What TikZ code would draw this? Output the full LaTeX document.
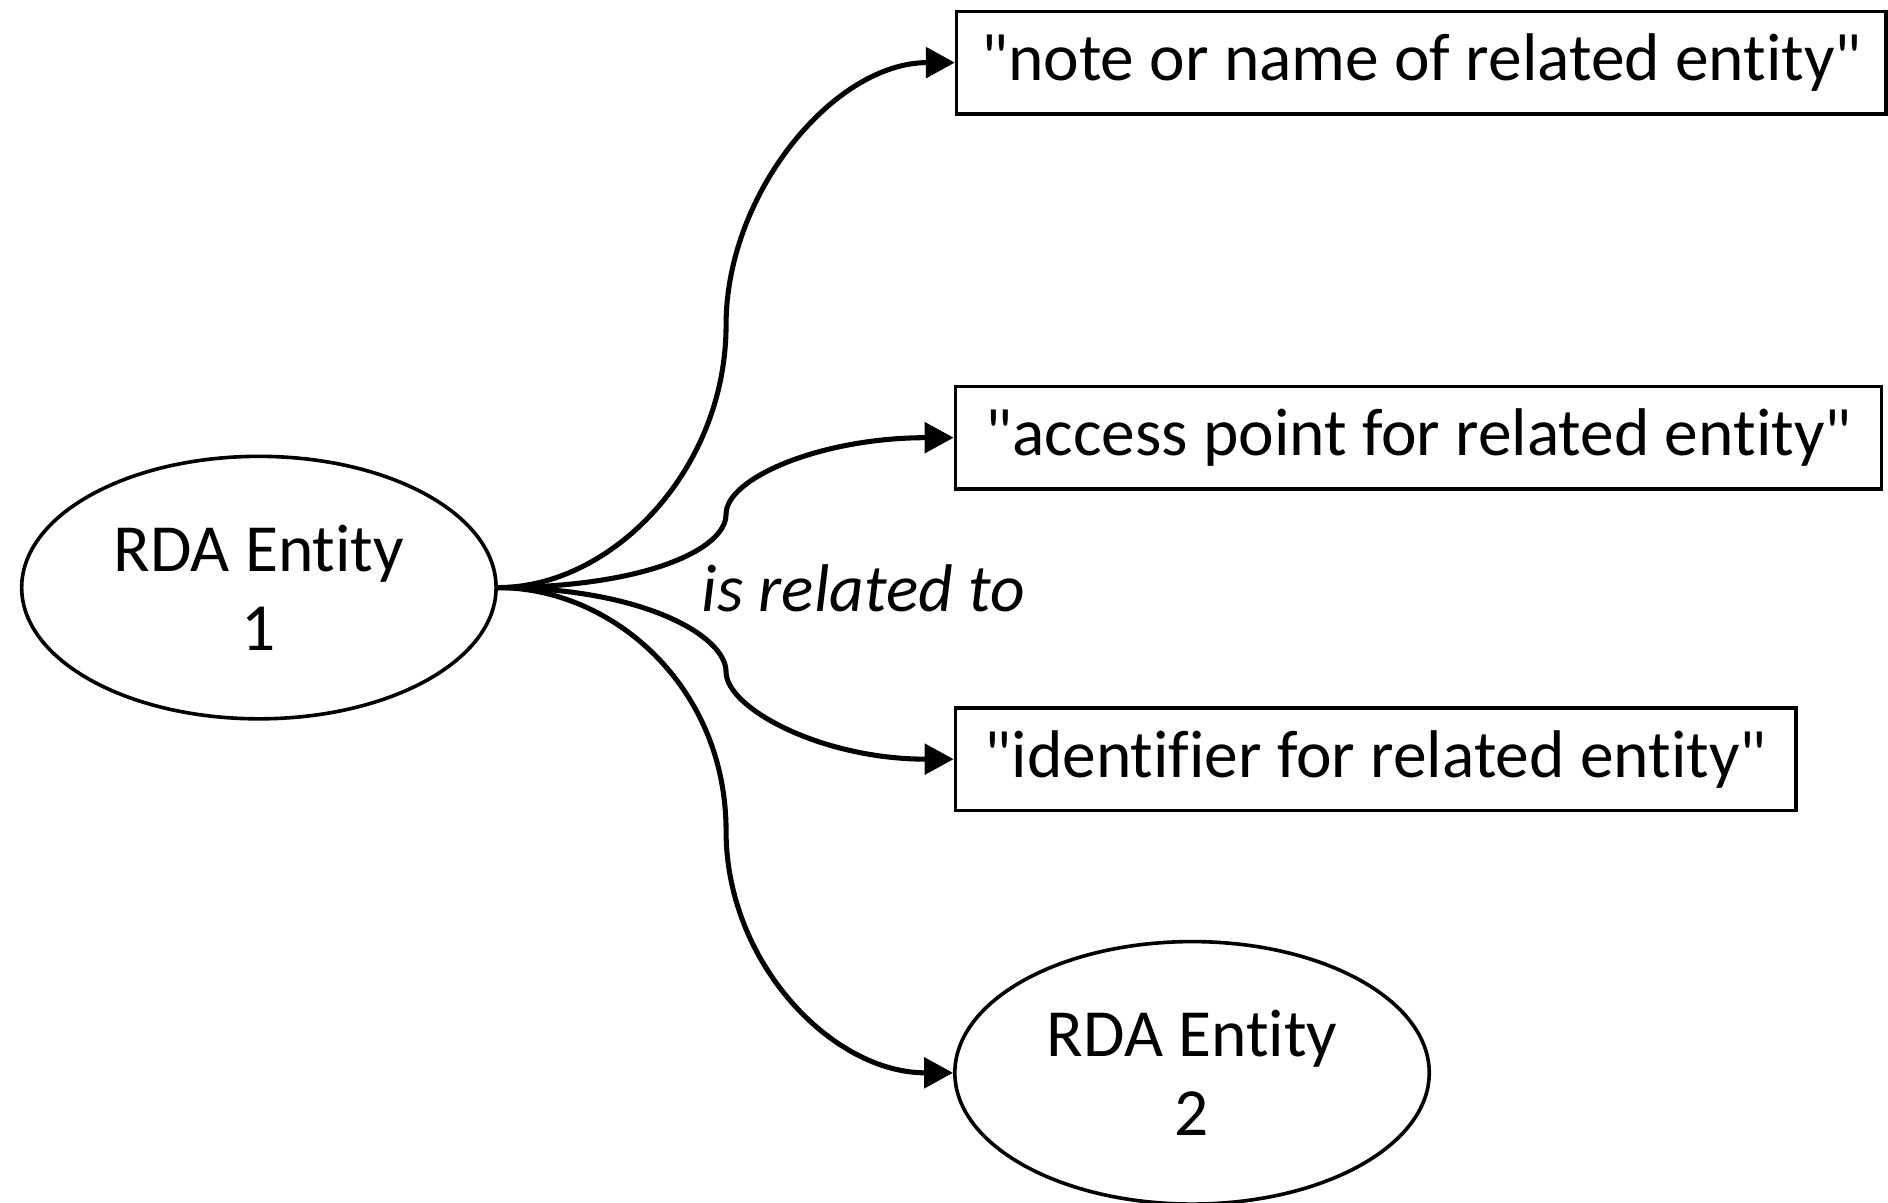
\documentclass[tikz,border=0pt]{standalone}
\usepackage{fontspec}
\setmainfont{Carlito}[Ligatures={TeXOff,NoCommon}]
\usetikzlibrary{positioning,shapes.geometric,arrows.meta}

\begin{document}
\begin{tikzpicture}[x=0.5pt,y=-0.5pt,>={Triangle[length=12pt,width=12.5pt]}]
 \tikzstyle{ent}=[ellipse,draw,line width=1.5pt,minimum width=197pt,minimum height=109pt,align=center,font=\fontsize{28}{33}\selectfont]
 \tikzstyle{lit}=[rectangle,draw,line width=1.5pt,minimum height=42.5pt,font=\fontsize{28}{33}\selectfont]
 \tikzstyle{rel}=[->,line width=2.1pt]
 \useasboundingbox (0,0) rectangle (1568,999);
  \node[ent] (E1) at (215,488) {RDA Entity\\1};
  \node[ent] (E2) at (990,891) {RDA Entity\\2};
  \node[lit,anchor=west,minimum width=386pt] (note) at (793,52) {"note or name of related entity"};
  \node[lit,anchor=west,minimum width=384.5pt] (acc) at (792,363.5) {"access point for related entity"};
  \node[lit,anchor=west,minimum width=349pt] (ident) at (792,630.5) {"identifier for related entity"};
  \node[font=\fontsize{28}{33}\selectfont\itshape] (rel) at (717,489) {is related to};
  \coordinate (j1) at (603,270);
  \coordinate (j2) at (603,427);
  \coordinate (j3) at (603,558);
  \coordinate (j4) at (603,690);
\draw[rel] (E1.east) .. controls +(95,0) and +(0,120) .. (j1)
   .. controls +(0,-110) and +(-100,0) .. (note.west);
\draw[rel] (E1.east) .. controls +(120,0) and +(0,30) .. (j2)
   .. controls +(0,-30) and +(-110,0) .. (acc.west);
\draw[rel] (E1.east) .. controls +(120,0) and +(0,-30) .. (j3)
   .. controls +(0,30) and +(-110,0) .. (ident.west);
\draw[rel] (E1.east) .. controls +(95,0) and +(0,-120) .. (j4)
   .. controls +(0,110) and +(-100,0) .. (E2.west);
\end{tikzpicture}
\end{document}
